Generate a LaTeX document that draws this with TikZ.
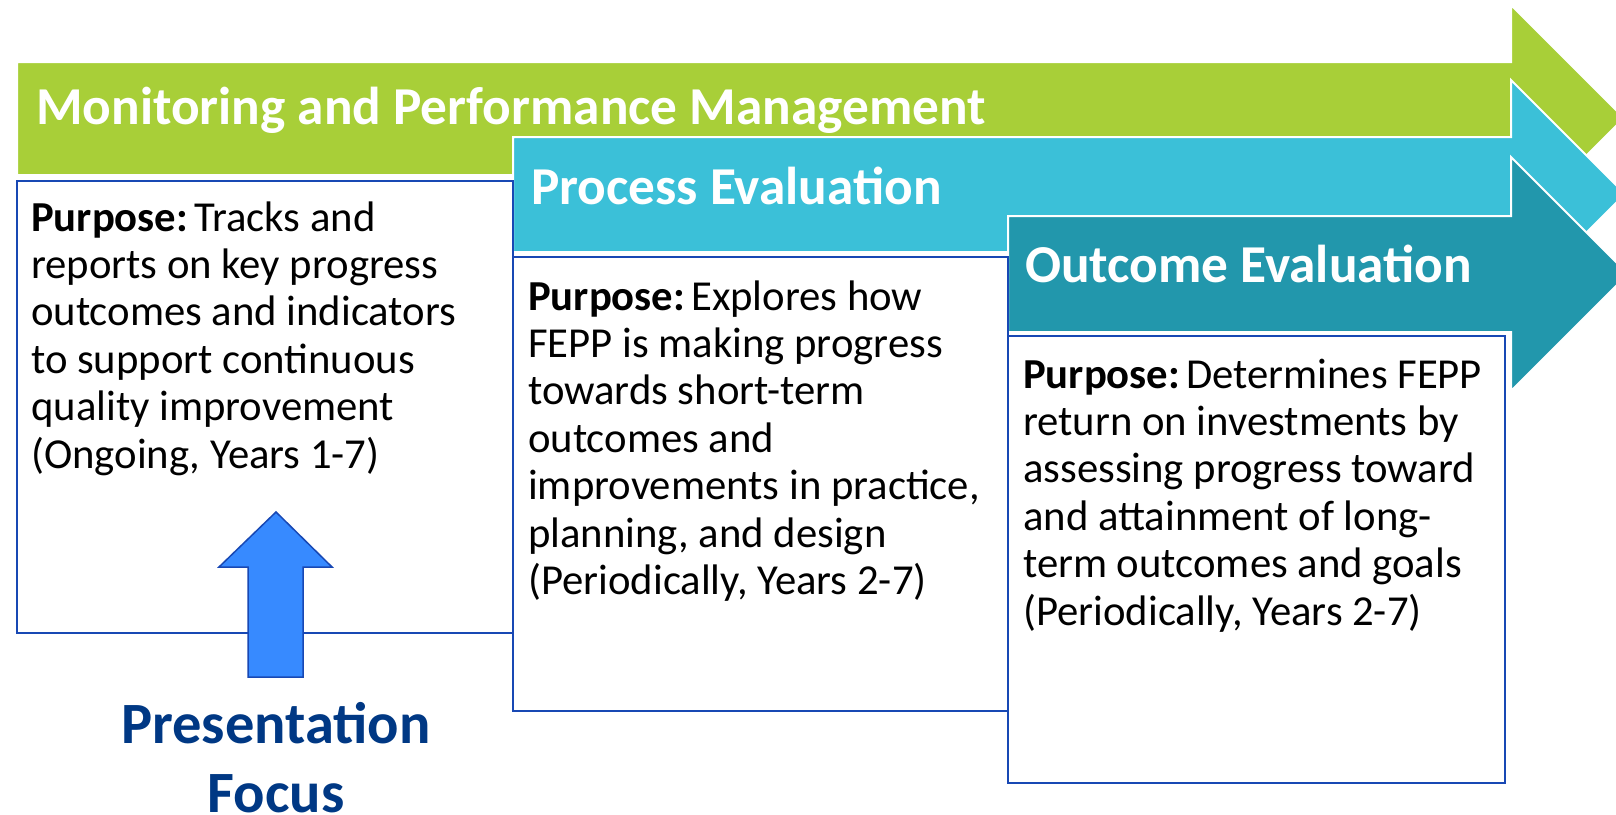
\documentclass[tikz,border=0pt]{standalone}
\usepackage{fontspec}
\setmainfont{Carlito}
\definecolor{mgreen}{RGB}{168,207,56}
\definecolor{mcyan}{RGB}{59,192,216}
\definecolor{mteal}{RGB}{34,151,172}
\definecolor{boxblue}{RGB}{24,72,180}
\definecolor{focusfill}{RGB}{55,138,255}
\definecolor{focustext}{RGB}{0,56,132}
\newcommand{\purp}{\textbf{Purpose:}\hspace{6pt}}
\begin{document}
\begin{tikzpicture}[x=1pt,y=-1pt]
\tikzset{
  band/.style={draw=white, line width=2pt, line join=miter},
  purposebox/.style={draw=boxblue, line width=2pt, fill=white},
  header/.style={font=\bfseries\fontsize{53.3}{64}\selectfont, text=white, anchor=base west, inner sep=0pt},
  body/.style={font=\fontsize{42.7}{47.4}\selectfont, anchor=base west, inner sep=0pt, align=left},
  focusarrow/.style={fill=focusfill, draw=boxblue, line width=1.5pt, line join=miter},
  focuslabel/.style={font=\bfseries\fontsize{58.5}{69}\selectfont, text=focustext, align=center, anchor=base, inner sep=0pt}
}
\useasboundingbox (0,0) rectangle (1616,814);
\clip (0,0) rectangle (1616,814);
% bands
\filldraw[fill=mgreen, band] (17,62) -- (1511,62) -- (1511,5) -- (1624,118) -- (1511,231) -- (1511,175) -- (17,175) -- cycle;
\filldraw[fill=mcyan, band] (513,137) -- (1511,137) -- (1511,80) -- (1625,194) -- (1511,308) -- (1511,252) -- (513,252) -- cycle;
\filldraw[fill=mteal, band] (1008,216) -- (1511,216) -- (1511,157) -- (1628,274) -- (1511,391) -- (1511,332) -- (1008,332) -- cycle;
\node[header] (h1) at (36,124) {Monitoring and Performance Management};
\node[header] (h2) at (531,204) {Process Evaluation};
\node[header] (h3) at (1025,282) {Outcome Evaluation};
% boxes (node base = last line)
\draw[purposebox] (17,181) rectangle (513,633);
\draw[purposebox] (513,257) rectangle (1008,711);
\draw[purposebox] (1008,336) rectangle (1505,783);
\node[body] (b1) at (31,468) {\purp Tracks and\\reports on key progress\\outcomes and indicators\\to support continuous\\quality improvement\\(Ongoing, Years 1-7)};
\node[body] (b2) at (528,594.4) {\purp Explores how\\FEPP is making progress\\towards short-term\\outcomes and\\improvements in practice,\\planning, and design\\(Periodically, Years 2-7)};
\node[body] (b3) at (1023,625) {\purp Determines FEPP\\return on investments by\\assessing progress toward\\and attainment of long-\\term outcomes and goals\\(Periodically, Years 2-7)};
% focus arrow
\draw[focusarrow] (276,512) -- (332,567) -- (303,567) -- (303,677) -- (248,677) -- (248,567) -- (219,567) -- cycle;
\node[focuslabel] (focus) at (276,812) {Presentation\\Focus};
\end{tikzpicture}
\end{document}
